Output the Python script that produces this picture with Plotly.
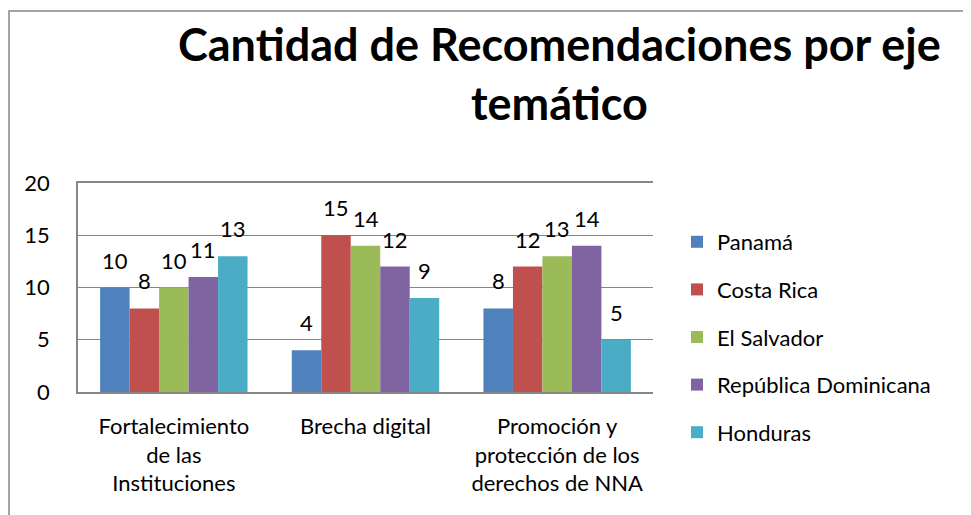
import plotly.graph_objects as go

categories = ['Fortalecimiento<br>de las<br>Instituciones', 'Brecha digital',
              'Promoción y<br>protección de los<br>derechos de NNA']
countries = ['Panamá', 'Costa Rica', 'El Salvador', 'República Dominicana', 'Honduras']
panama = [10, 4, 8]
costa_rica = [8, 15, 12]
el_salvador = [10, 14, 13]
rep_dominicana = [11, 12, 14]
honduras = [13, 9, 5]
colors = ['#4F81BD', '#C0504D', '#9BBB59', '#8064A2', '#4BACC6']
series = [panama, costa_rica, el_salvador, rep_dominicana, honduras]

FONT = 'Lato'
W, H = 971, 515
OFF = 8  # page body margin
ML, MR, MT, MB = 70, 326, 175, 131
PW, PH = W - ML - MR, H - MT - MB
GAP = 1.5  # Excel gap width, in bar widths
BAR_W = PW / len(categories) / (len(series) + GAP)


def px_x(p):
    return (p - OFF - ML) / PW


def px_y(p):
    return (H - MB - (p - OFF)) / PH


fig = go.Figure()
labels = []
for i, (name, vals) in enumerate(zip(countries, series)):
    fig.add_trace(go.Bar(
        x=categories, y=vals, name=name,
        marker=dict(color=colors[i], line=dict(width=0)),
        legendgroup=name,
    ))
    # value labels, lifted above the bar as in Excel
    for cat, v in zip(categories, vals):
        labels.append(dict(x=cat, y=v, xref='x', yref='y', text=str(v),
                           showarrow=False, yanchor='bottom',
                           xshift=(i - (len(series) - 1) / 2) * BAR_W, yshift=12,
                           font=dict(family=FONT, size=22, color='black')))

fig.update_layout(
    width=W, height=H,
    margin=dict(l=ML, r=MR, t=MT, b=MB, autoexpand=False),
    paper_bgcolor='white', plot_bgcolor='white',
    barmode='group', bargap=GAP / (len(series) + GAP), bargroupgap=0,
    font=dict(family=FONT, size=22, color='black'),
    xaxis=dict(showline=True, mirror=True, linecolor='#868686', linewidth=1.5, ticks='',
               ticklabelstandoff=14, tickfont=dict(size=22)),
    yaxis=dict(range=[0, 20], dtick=5, showgrid=True, gridcolor='#868686', gridwidth=1.2,
               showline=True, linecolor='#868686', linewidth=1.5, ticks='',
               ticklabelstandoff=22, zeroline=False, tickfont=dict(size=22)),
    legend=dict(x=px_x(677), xanchor='left', y=px_y(221), yanchor='top',
                traceorder='grouped', tracegroupgap=16, maxheight=600,
                font=dict(family=FONT, size=22), bgcolor='rgba(0,0,0,0)'),
    annotations=labels + [dict(text='<b>Cantidad de Recomendaciones por eje<br>temático</b>',
                               xref='paper', yref='paper', x=px_x(559), xanchor='center',
                               y=px_y(15), yanchor='top', showarrow=False,
                               font=dict(family=FONT, size=45, color='black'))],
    shapes=[dict(type='rect', xref='paper', yref='paper',
                 x0=px_x(9), x1=px_x(1000), y0=px_y(540), y1=px_y(11),
                 line=dict(color='#888888', width=1.5), layer='below')],
)

fig.write_html('out.html')
